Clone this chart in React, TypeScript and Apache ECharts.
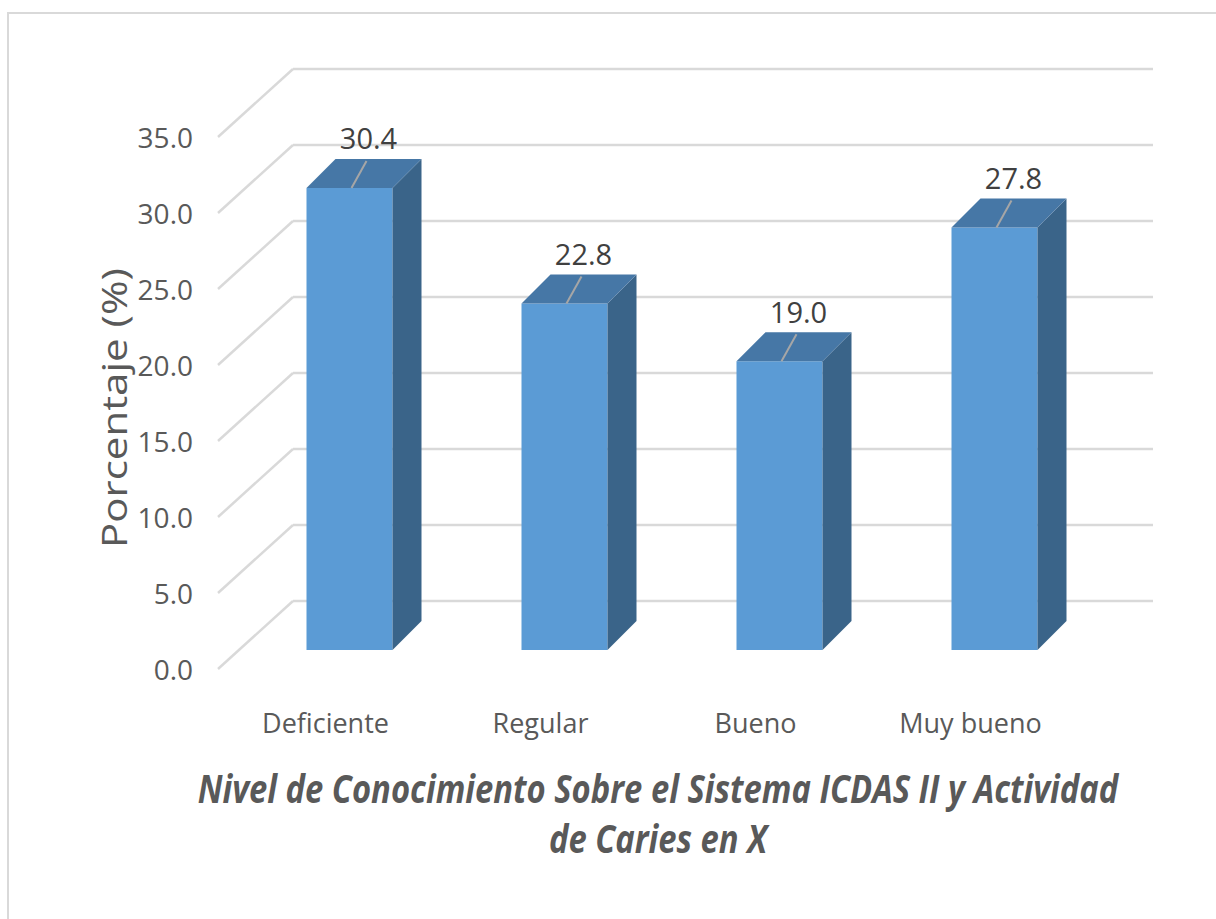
import React, { useEffect, useRef } from "react";
import * as echarts from "echarts";

const categories = ["Deficiente", "Regular", "Bueno", "Muy bueno"];
const values = [30.4, 22.8, 19.0, 27.8];
const yTicks = [0, 5, 10, 15, 20, 25, 30, 35];

const FONT = "'Open Sans', sans-serif";
const TXT = "#595959";

export default function App() {
  const ref = useRef<HTMLDivElement>(null);
  useEffect(() => {
    if (!ref.current) return;
    const chart = echarts.init(ref.current, undefined, { renderer: "svg" });
    const WX = 75, WY = 68; // back wall offset
    const BX = 24, BY = 19; // bar inset from front plane
    const DX = 29, DY = 29; // bar depth
    const option: any = {
      animation: false,
      backgroundColor: "#ffffff",
      grid: { left: 218, top: 137, width: 860, height: 532 },
      xAxis: {
        type: "category",
        data: categories,
        axisLine: { show: false },
        axisTick: { show: false },
        axisLabel: { fontFamily: FONT, fontSize: 27, color: TXT, margin: 40 },
      },
      yAxis: {
        type: "value",
        min: 0,
        max: 35,
        interval: 5,
        axisLine: { show: false },
        axisTick: { show: false },
        splitLine: { show: false },
        axisLabel: {
          fontFamily: FONT,
          fontSize: 28,
          color: TXT,
          margin: 25,
          padding: [6, 0, 0, 0],
          formatter: (v: number) => v.toFixed(1),
        },
      },
      graphic: [
        {
          type: "rect",
          shape: { x: 8, y: 13, width: 1400, height: 1100 },
          style: { fill: "none", stroke: "#d9d9d9", lineWidth: 2 },
          silent: true,
          z: -10,
        },
        {
          type: "text",
          x: 113,
          y: 408,
          rotation: Math.PI / 2,
          scaleX: 1.2,
          style: {
            text: "Porcentaje (%)",
            fontFamily: FONT,
            fontSize: 35,
            fill: TXT,
            align: "center",
            verticalAlign: "middle",
          },
        },
        {
          type: "text",
          x: 658,
          y: 813,
          scaleX: 0.82,
          style: {
            text: "Nivel de Conocimiento Sobre el Sistema ICDAS II y Actividad\nde Caries en X",
            fontFamily: FONT,
            fontSize: 40,
            fontWeight: "bold",
            fontStyle: "italic",
            fill: TXT,
            align: "center",
            verticalAlign: "middle",
            lineHeight: 50,
          },
        },
      ],
      series: [
        {
          type: "custom",
          z: 1,
          data: yTicks.map((t) => [0, t]),
          renderItem: (params: any, api: any) => {
            const cs = params.coordSys;
            const p = api.coord([0, api.value(1)]);
            const y = p[1];
            const x0 = cs.x;
            const style = { stroke: "#d9d9d9", lineWidth: 2.5 };
            return {
              type: "group",
              children: [
                {
                  type: "line",
                  shape: { x1: x0, y1: y, x2: x0 + WX, y2: y - WY },
                  style,
                },
                {
                  type: "line",
                  shape: { x1: x0 + WX, y1: y - WY, x2: x0 + cs.width + WX, y2: y - WY },
                  style,
                },
              ],
            };
          },
        },
        {
          type: "custom",
          z: 2,
          data: values.map((v, i) => [i, v]),
          renderItem: (params: any, api: any) => {
            const i = api.value(0);
            const v = api.value(1);
            const base = api.coord([i, 0]);
            const top = api.coord([i, v]);
            const w = api.size([1, 0])[0] * 0.4;
            const xl = base[0] - w / 2 + BX;
            const xr = base[0] + w / 2 + BX;
            const yb = base[1] - BY;
            const yt = top[1] - BY;
            const cx = base[0] + BX;
            return {
              type: "group",
              children: [
                {
                  type: "rect",
                  shape: { x: xl, y: yt, width: xr - xl, height: yb - yt },
                  style: { fill: "#5b9bd5" },
                },
                {
                  type: "polygon",
                  shape: { points: [[xr, yt], [xr + DX, yt - DY], [xr + DX, yb - DY], [xr, yb]] },
                  style: { fill: "#3a6489" },
                },
                {
                  type: "polygon",
                  shape: { points: [[xl, yt], [xl + DX, yt - DY], [xr + DX, yt - DY], [xr, yt]] },
                  style: { fill: "#4677a6" },
                },
                {
                  type: "line",
                  shape: { x1: cx + 2, y1: yt, x2: cx + 17, y2: yt - 27 },
                  style: { stroke: "#a6a6a6", lineWidth: 2 },
                },
                {
                  type: "text",
                  x: cx + 19,
                  y: yt - 50,
                  style: {
                    text: v.toFixed(1),
                    fontFamily: FONT,
                    fontSize: 29,
                    fill: "#404040",
                    align: "center",
                    verticalAlign: "middle",
                  },
                },
              ],
            };
          },
        },
      ],
    };
    chart.setOption(option);
    return () => chart.dispose();
  }, []);
  return (
    <div
      ref={ref}
      style={{ position: "fixed", left: 0, top: 0, width: 1216, height: 919 }}
    />
  );
}
